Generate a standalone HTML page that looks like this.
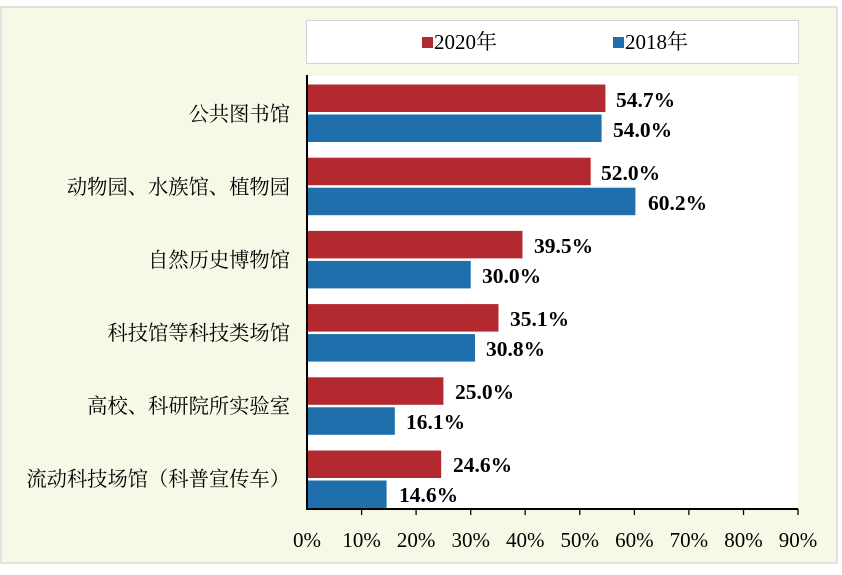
<!DOCTYPE html>
<html><head><meta charset="utf-8"><style>body{margin:0;background:#fff}</style></head><body>
<svg width="842" height="570" xmlns="http://www.w3.org/2000/svg" font-family="'Liberation Serif','Noto Serif CJK SC',serif">
<rect x="1" y="7" width="836" height="556" fill="#f8f8e6" stroke="#d8d8d8" stroke-width="1.5"/>
<rect x="306.5" y="20.5" width="492" height="43" fill="#fff" stroke="#d4d4d4"/>
<rect x="422" y="37" width="11" height="11" fill="#b22a30"/>
<text x="434" y="49" font-size="21">2020年</text>
<rect x="613" y="37" width="11" height="11" fill="#1f6fad"/>
<text x="625" y="49" font-size="21">2018年</text>
<rect x="307" y="76" width="491" height="433" fill="#fff"/>
<g fill="#b22a30">
<rect x="307" y="84.5" width="298.4" height="27.5"/>
<rect x="307" y="157.7" width="283.7" height="27.5"/>
<rect x="307" y="230.9" width="215.5" height="27.5"/>
<rect x="307" y="304.1" width="191.5" height="27.5"/>
<rect x="307" y="377.3" width="136.4" height="27.5"/>
<rect x="307" y="450.5" width="134.2" height="27.5"/>
</g>
<g fill="#1f6fad">
<rect x="307" y="114.5" width="294.6" height="27.5"/>
<rect x="307" y="187.7" width="328.4" height="27.5"/>
<rect x="307" y="260.9" width="163.7" height="27.5"/>
<rect x="307" y="334.1" width="168" height="27.5"/>
<rect x="307" y="407.3" width="87.8" height="27.5"/>
<rect x="307" y="480.5" width="79.6" height="27.5"/>
</g>
<g font-size="21.5" font-weight="bold">
<text x="616" y="107">54.7%</text><text x="613" y="137">54.0%</text>
<text x="601" y="180">52.0%</text><text x="648" y="210">60.2%</text>
<text x="534" y="253">39.5%</text><text x="482" y="283">30.0%</text>
<text x="510" y="326">35.1%</text><text x="486" y="356">30.8%</text>
<text x="455" y="399">25.0%</text><text x="406" y="429">16.1%</text>
<text x="453" y="472">24.6%</text><text x="399" y="502">14.6%</text>
</g>
<g font-size="20.3" text-anchor="end">
<text x="290" y="121">公共图书馆</text>
<text x="290" y="194">动物园、水族馆、植物园</text>
<text x="290" y="267">自然历史博物馆</text>
<text x="290" y="340">科技馆等科技类场馆</text>
<text x="290" y="413">高校、科研院所实验室</text>
<text x="290" y="486">流动科技场馆（科普宣传车）</text>
</g>
<g stroke="#000" stroke-width="2">
<line x1="307" y1="75" x2="307" y2="510"/>
<line x1="306" y1="509" x2="798" y2="509"/>
</g>
<g stroke="#000" stroke-width="1.3">
<line x1="361.6" y1="509" x2="361.6" y2="515"/><line x1="416.1" y1="509" x2="416.1" y2="515"/>
<line x1="470.7" y1="509" x2="470.7" y2="515"/><line x1="525.2" y1="509" x2="525.2" y2="515"/>
<line x1="579.8" y1="509" x2="579.8" y2="515"/><line x1="634.4" y1="509" x2="634.4" y2="515"/>
<line x1="688.9" y1="509" x2="688.9" y2="515"/><line x1="743.5" y1="509" x2="743.5" y2="515"/>
<line x1="798" y1="509" x2="798" y2="515"/>
</g>
<g font-size="21" text-anchor="middle">
<text x="307" y="547">0%</text><text x="361.6" y="547">10%</text><text x="416.1" y="547">20%</text>
<text x="470.7" y="547">30%</text><text x="525.2" y="547">40%</text><text x="579.8" y="547">50%</text>
<text x="634.4" y="547">60%</text><text x="688.9" y="547">70%</text><text x="743.5" y="547">80%</text>
<text x="798" y="547">90%</text>
</g>
</svg>
</body></html>
